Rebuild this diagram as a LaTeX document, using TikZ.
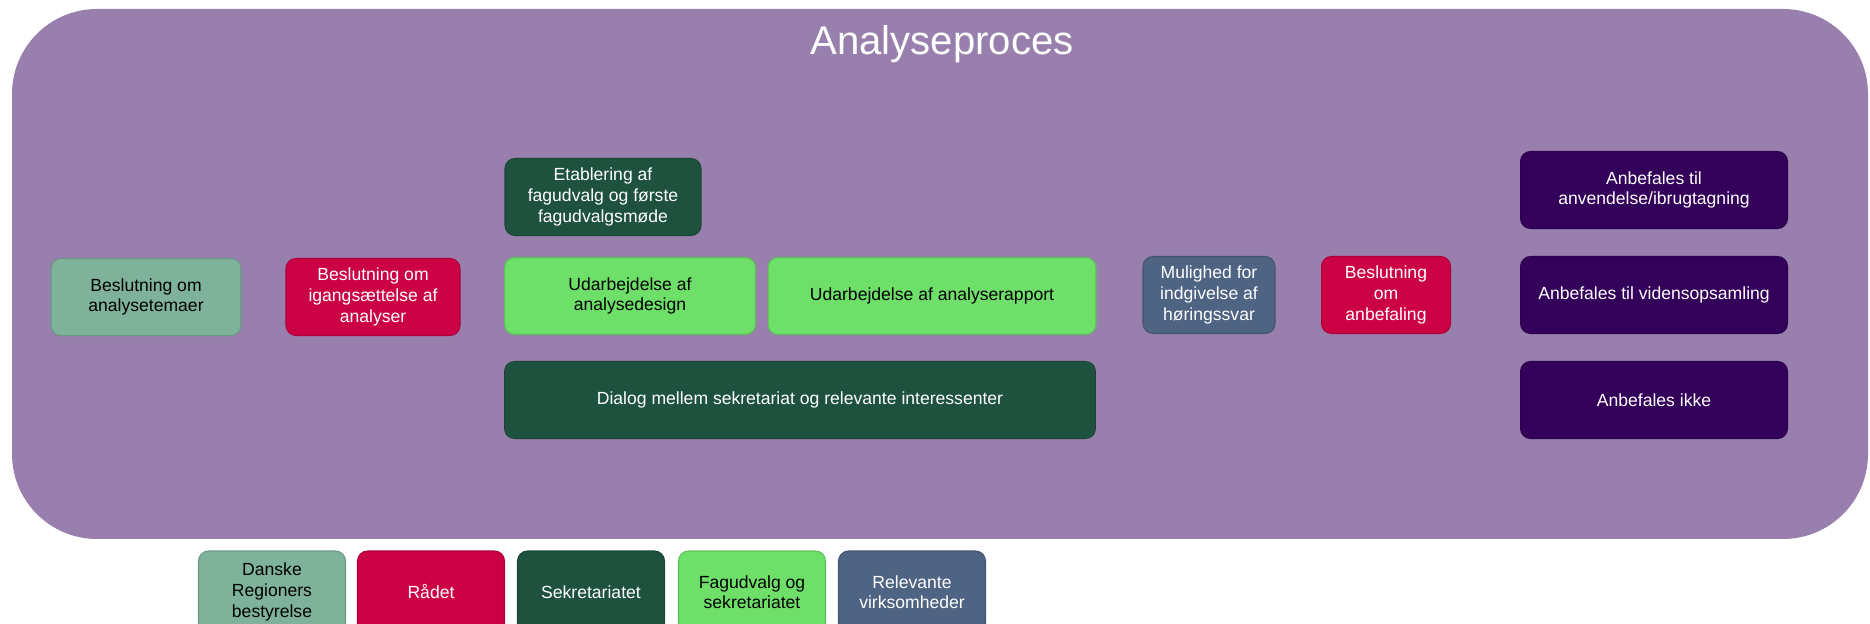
\documentclass[tikz,border=0pt]{standalone}
\usepackage{fontspec}
\setmainfont{Liberation Sans}
\usepackage{xcolor}
\usepackage{tikz}
\usetikzlibrary{positioning}

\definecolor{procpurple}{HTML}{987FAD}
\definecolor{regsage}{HTML}{7FB29A}
\definecolor{raadred}{HTML}{CC0044}
\definecolor{faggreen}{HTML}{6EE06A}
\definecolor{sekgreen}{HTML}{1F523E}
\definecolor{virkblue}{HTML}{4F6382}
\definecolor{anbefpurple}{HTML}{33005A}

\begin{document}
\begin{tikzpicture}[x=0.02cm,y=-0.02cm,
	box/.style={rounded corners=0.2cm,align=center,inner sep=1pt,line width=0.6pt,
		minimum height=1.54cm,font=\fontsize{10}{11.7}\selectfont},
	regbox/.style={box,fill=regsage,draw=regsage!85!black,text=black},
	raadbox/.style={box,fill=raadred,draw=raadred!85!black,text=white},
	sekbox/.style={box,fill=sekgreen,draw=sekgreen!85!black,text=white},
	fagbox/.style={box,fill=faggreen,draw=faggreen!85!black,text=black},
	virkbox/.style={box,fill=virkblue,draw=virkblue!85!black,text=white},
	anbefbox/.style={box,fill=anbefpurple,draw=anbefpurple!85!black,text=white,minimum width=5.34cm}]
		\useasboundingbox (0,0) rectangle (1870,624);
		\fill[procpurple,rounded corners=1.7cm] (12,9) rectangle (1868,539);
		\node[anchor=base,text=white,font=\fontsize{22.8}{27}\selectfont] (title) at (942,55) {Analyseproces};
		% midterste raekke
		\node[regbox,minimum width=3.8cm] (besltema) at (146,297) {Beslutning om\\analysetemaer};
		\node[raadbox,minimum width=3.48cm] (beslstart) at (373,297) {Beslutning om\\igangsættelse af\\analyser};
		\node[fagbox,minimum width=5.02cm] (design) at (630,296) {Udarbejdelse af\\analysedesign};
		\node[fagbox,minimum width=6.56cm] (rapport) at (932,296) {Udarbejdelse af analyserapport};
		\node[virkbox,minimum width=2.64cm] (hoering) at (1209,295) {Mulighed for\\indgivelse af\\høringssvar};
		\node[raadbox,minimum width=2.58cm] (beslanbef) at (1386,295) {Beslutning\\om\\anbefaling};
		% sekretariatet
		\node[sekbox,minimum width=3.92cm] (etabl) at (603,197) {Etablering af\\fagudvalg og første\\fagudvalgsmøde};
		\node[sekbox,minimum width=11.82cm] (dialog) at (800,400) {Dialog mellem sekretariat og relevante interessenter};
		% anbefalinger
		\node[anbefbox] (anbefbrug) at (1654,190) {Anbefales til\\anvendelse/ibrugtagning};
		\node[anbefbox] (anbefviden) at (1654,295) {Anbefales til vidensopsamling};
		\node[anbefbox] (anbefikke) at (1654,400) {Anbefales ikke};
		% forklaring
		\node[regbox,minimum width=2.94cm,minimum height=1.64cm] (legreg) at (272,592) {Danske\\Regioners\\bestyrelse};
		\node[raadbox,minimum width=2.94cm,minimum height=1.64cm] (legraad) at (431,592) {Rådet};
		\node[sekbox,minimum width=2.94cm,minimum height=1.64cm] (legsek) at (591,592) {Sekretariatet};
		\node[fagbox,minimum width=2.94cm,minimum height=1.64cm] (legfag) at (752,592) {Fagudvalg og\\sekretariatet};
		\node[virkbox,minimum width=2.94cm,minimum height=1.64cm] (legvirk) at (912,592) {Relevante\\virksomheder};
	\end{tikzpicture}
\end{document}
